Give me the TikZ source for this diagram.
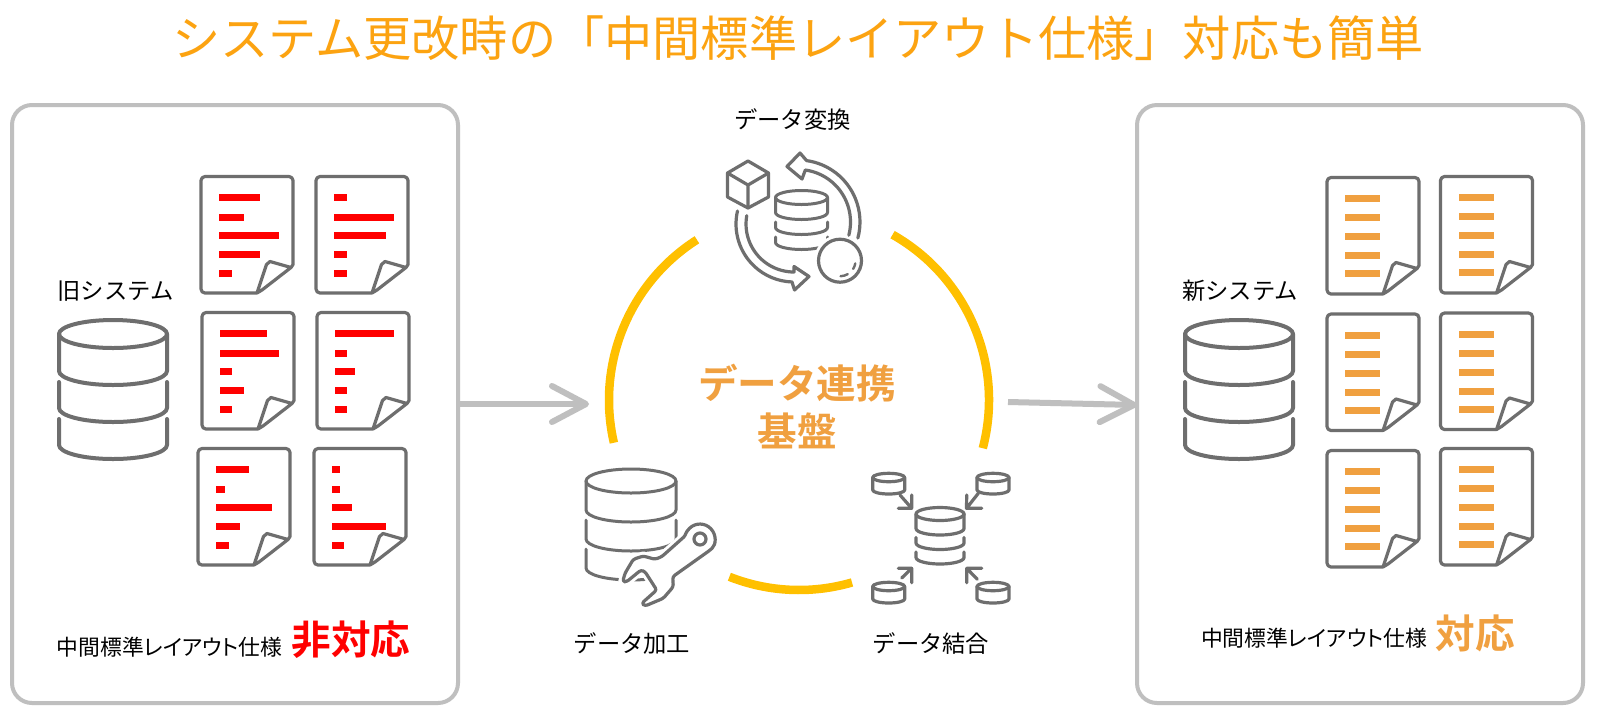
\documentclass[tikz,border=0pt]{standalone}
\usepackage{fontspec}
\newfontfamily\cjk{Noto Sans CJK JP}
\newfontfamily\cjkp[RawFeature=+palt]{Noto Sans CJK JP}
\newfontfamily\cjkb{Noto Sans CJK JP Bold}
\usetikzlibrary{arrows.meta}
\definecolor{ic}{HTML}{6E6E6E}
\definecolor{bx}{HTML}{BFBFBF}
\definecolor{tt}{HTML}{FCA311}
\definecolor{og}{HTML}{F0A040}
\definecolor{ring}{HTML}{FFC000}
\definecolor{rd}{HTML}{FF0000}
\tikzset{
 x=1pt,y=-1pt,
 ico/.style={draw=ic,line width=3.2pt,line join=round,line cap=round},
 panelbox/.style={draw=bx,line width=4pt,rounded corners=20pt,minimum width=446pt,minimum height=598pt,inner sep=0pt,outer sep=0pt},
 ringarc/.style={draw=ring,line width=8.5pt},
 flow/.style={draw=bx,line width=6pt,-{Straight Barb[round,length=34pt,width=36pt,line width=6pt]}},
 lab/.style={font=\cjk\fontsize{23.3}{24}\selectfont,text=black,inner sep=0pt},
 specl/.style={font=\cjkp\fontsize{21.8}{24}\selectfont,text=black,inner sep=0pt},
 boldl/.style={font=\cjkb\fontsize{39.6}{40}\selectfont,inner sep=0pt},
}
\newcommand{\docicon}[4]{%
 \begin{scope}[shift={(#1+1,#2+1.5)}]
 \draw[ico] (56,116.5) -- (4,116.5) arc[start angle=90,end angle=180,radius=4] -- (0,4) arc[start angle=180,end angle=270,radius=4] -- (88,0) arc[start angle=-90,end angle=0,radius=4] -- (92,88) -- (90,91) -- (61,113.5) -- (56,116.5) -- (65.5,88) -- (69,85) -- (90,91);
 \foreach \yy/\ww in {#4}{\fill[#3] (18,\yy-3.5) rectangle (18+\ww,\yy+3.5);}
 \end{scope}}
% cx, cy, rx, ry, tier step, side gap, line width
\newcommand{\dbicon}[7]{%
 \begin{scope}[shift={(#1,#2)}]
 \draw[ico,line width=#7] (0,0) ellipse[x radius=#3,y radius=#4];
 \draw[ico,line width=#7] (-#3,0) -- (-#3,#5) arc[start angle=180,end angle=0,x radius=#3,y radius=#4] -- (#3,0);
 \draw[ico,line width=#7] (-#3,#5+#6) -- (-#3,2*#5) arc[start angle=180,end angle=0,x radius=#3,y radius=#4] -- (#3,#5+#6);
 \draw[ico,line width=#7] (-#3,2*#5+#6) -- (-#3,3*#5) arc[start angle=180,end angle=0,x radius=#3,y radius=#4] -- (#3,2*#5+#6);
 \end{scope}}
\newcommand{\smalldb}[2]{%
 \begin{scope}[shift={(#1,#2)}]
 \draw[ico] (0,0) ellipse[x radius=16,y radius=4.2];
 \draw[ico] (-16,0) -- (-16,12.5) arc[start angle=180,end angle=0,x radius=16,y radius=4] -- (16,0);
 \end{scope}}
\begin{document}
\begin{tikzpicture}
\useasboundingbox (0,0) rectangle (1597,716);
\fill[white] (0,0) rectangle (1597,716);
\node[font=\cjk\fontsize{48.2}{50}\selectfont,text=tt,inner sep=0pt] (title) at (798,38) {システム更改時の「中間標準レイアウト仕様」対応も簡単};
% panels
\node[panelbox] (leftpanel) at (235,404) {};
\node[panelbox] (rightpanel) at (1360,404) {};
% left docs
\docicon{200}{175}{rd}{21/41, 40.5/25, 59/60, 78/41, 97/13}
\docicon{315}{175}{rd}{21/13, 40.5/60, 59/52, 78/13, 97/13}
\docicon{201}{311}{rd}{21/47, 40.5/59, 59/12, 78/24, 97/12}
\docicon{316}{311}{rd}{21/59, 40.5/12, 59/20, 78/12, 97/12}
\docicon{197}{447}{rd}{21/33, 40.5/9, 59/56, 78/24, 97/13}
\docicon{313}{447}{rd}{21/8, 40.5/8, 59/20, 78/54, 97/12}
% right docs
\docicon{1326}{176}{og}{21/35, 40/35, 59/35, 78/35, 96/35}
\docicon{1439.5}{175}{og}{21/35, 40/35, 59/35, 78/35, 96/35}
\docicon{1326}{312.5}{og}{21/35, 40/35, 59/35, 78/35, 96/35}
\docicon{1439.5}{311.5}{og}{21/35, 40/35, 59/35, 78/35, 96/35}
\docicon{1326}{449}{og}{21/35, 40/35, 59/35, 78/35, 96/35}
\docicon{1439.5}{447}{og}{21/35, 40/35, 59/35, 78/35, 96/35}
% side databases
\dbicon{113}{334}{54}{14}{37}{11}{4pt}
\dbicon{1239}{334}{54}{14}{37}{11}{4pt}
% labels
\node[lab] (old) at (115.5,291) {旧システム};
\node[lab] (new) at (1240,291) {新システム};
\node[specl] (oldspec) at (169.6,647) {中間標準レイアウト仕様};
\node[boldl,text=rd] (ng) at (351,640) {非対応};
\node[specl] (newspec) at (1314,638) {中間標準レイアウト仕様};
\node[boldl,text=og] (ok) at (1475,633) {対応};
\node[boldl,text=og] (hub1) at (797,383) {データ連携};
\node[boldl,text=og] (hub2) at (797,431) {基盤};
\node[lab] (conv) at (792.6,120) {データ変換};
\node[lab] (proc) at (632,644) {データ加工};
\node[lab] (join) at (931,644) {データ結合};
% ring
\coordinate (c) at (799,400);
\draw[ringarc] (c) ++(237.5:190) arc[start angle=237.5,end angle=167,radius=190];
\draw[ringarc] (c) ++(-60.5:190) arc[start angle=-60.5,end angle=14.7,radius=190];
\draw[ringarc] (c) ++(111.5:190) arc[start angle=111.5,end angle=73.8,radius=190];
% flow arrows
\coordinate (arrowL) at (589,404);
\coordinate (arrowRs) at (1008,402);
\coordinate (arrowRe) at (1135,405);
\draw[flow] (leftpanel.east |- arrowL) -- (arrowL);
\draw[flow] (arrowRs) -- (rightpanel.west |- arrowRe);
% --- data conversion icon
\dbicon{801.5}{197.5}{26}{7}{15}{9.5}{3pt}
\fill[white] (840,260.7) circle[radius=26];
\draw[ico] (840,260.7) circle[radius=21.5];
\draw[ico,line width=2.4pt] (840,260.7) ++(60:15.5) arc[start angle=60,end angle=88,radius=15.5];
\draw[ico,line width=2.4pt] (840,260.7) ++(10:15.5) arc[start angle=10,end angle=32,radius=15.5];
\draw[ico] (748,161) -- (768.5,173) -- (768.5,197) -- (748,208) -- (727.5,197) -- (727.5,173) -- cycle;
\draw[ico] (727.5,173) -- (748,185) -- (768.5,173) (748,185) -- (748,208);
% upper circular arrow
\draw[ico] (798,222) ++(14.6:52.5) arc[start angle=14.6,end angle=-82,radius=52.5]
  -- (802,179) -- (787,166.5) -- (800,153) -- (806.6,160.6)
  arc[start angle=-82,end angle=15,radius=62];
% lower circular arrow
\draw[ico] (794,224) ++(193:58) arc[start angle=193,end angle=92,radius=58]
  -- (794.5,290) -- (809,276.5) -- (794,266.5) -- (794,272)
  arc[start angle=90,end angle=190,radius=48];
% --- data processing icon
\dbicon{631}{481}{45}{12}{29}{10}{3pt}
\path[draw=white,line width=9pt,line join=round,fill=white]
  (710.2,550) arc[start angle=47,end angle=-167,radius=15]
  -- (661.7,556.7) -- (655,559.3) -- (643.3,556) -- (633.3,559.3) -- (625,573.3) -- (622.7,581.7) -- (626.7,581.7)
  -- (641,570) -- (645,571.7) -- (656.7,590) -- (641.7,603.3) -- (645,606) -- (663.3,598.3) -- (673.3,586.7) -- (672.7,576.7) -- cycle;
\draw[ico,rounded corners=2.5pt]
  (710.2,550) arc[start angle=47,end angle=-167,radius=15]
  -- (661.7,556.7) -- (655,559.3) -- (643.3,556) -- (633.3,559.3) -- (625,573.3) -- (622.7,581.7) -- (626.7,581.7)
  -- (641,570) -- (645,571.7) -- (656.7,590) -- (641.7,603.3) -- (645,606) -- (663.3,598.3) -- (673.3,586.7) -- (672.7,576.7) -- cycle;
\draw[ico] (700,539) circle[radius=6];
% --- data join icon
\dbicon{940}{514}{24}{6.5}{14.5}{9}{3.2pt}
\smalldb{888.7}{477.5}
\smalldb{993}{477.5}
\smalldb{888.7}{586.5}
\smalldb{993}{586.5}
\draw[ico] (900,495) -- (911.7,508.3) (911.7,495) -- (911.7,508.3) -- (898.3,508.3);
\draw[ico] (978.3,493.3) -- (966.5,508.3) (966.7,495) -- (966.5,508.3) -- (981.7,508.3);
\draw[ico] (901.7,578) -- (911.7,568.3) (898.3,568.3) -- (911.7,568.3) -- (911.7,582.7);
\draw[ico] (977.3,579.3) -- (966.7,568.3) (981.7,568.3) -- (966.7,568.3) -- (966.7,582.7);
\end{tikzpicture}
\end{document}
